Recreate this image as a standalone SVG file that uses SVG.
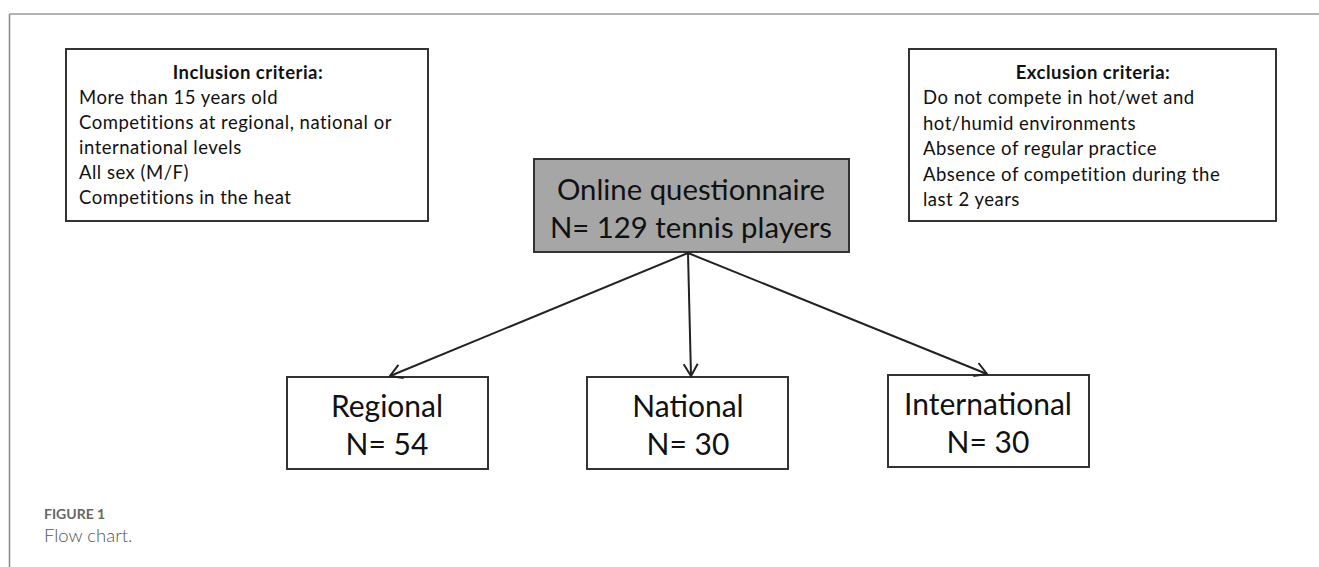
<svg xmlns="http://www.w3.org/2000/svg" width="1319" height="567" viewBox="0 0 1319 567">
<defs>
<marker id="arr" viewBox="0 0 20 20" refX="18" refY="10" markerWidth="20" markerHeight="20" markerUnits="userSpaceOnUse" orient="auto">
<path d="M6,3 L18,10 L6,17" fill="none" stroke="#222" stroke-width="2"/>
</marker>
<style>
.box{fill:#fff;stroke:#333;stroke-width:2}
.t{font-family:Lato,"Liberation Sans",sans-serif;fill:#111}
.s{font-size:18.5px;letter-spacing:0.5px}
.b{font-weight:bold}
.big{font-size:30px;text-anchor:middle}
.mid{font-size:29.3px;text-anchor:middle}
.conn{stroke:#222;stroke-width:2;fill:none}
</style>
</defs>
<rect width="1319" height="567" fill="#fff"/>
<line x1="9.5" y1="14" x2="1319" y2="14" stroke="#9a9a9a" stroke-width="1.5"/>
<line x1="9.5" y1="14" x2="9.5" y2="567" stroke="#888" stroke-width="1.5"/>

<g id="inclusion">
<rect class="box" x="66" y="49" width="362" height="172"/>
<text class="t s b" x="248" y="79" text-anchor="middle">Inclusion criteria:</text>
<text class="t s" x="79" y="104">More than 15 years old</text>
<text class="t s" x="79" y="129">Competitions at regional, national or</text>
<text class="t s" x="79" y="154">international levels</text>
<text class="t s" x="79" y="179">All sex (M/F)</text>
<text class="t s" x="79" y="204">Competitions in the heat</text>
</g>

<g id="exclusion">
<rect class="box" x="909" y="49" width="367" height="172"/>
<text class="t s b" x="1093" y="79" text-anchor="middle">Exclusion criteria:</text>
<text class="t s" x="923" y="104">Do not compete in hot/wet and</text>
<text class="t s" x="923" y="129.5">hot/humid environments</text>
<text class="t s" x="923" y="155">Absence of regular practice</text>
<text class="t s" x="923" y="180.5">Absence of competition during the</text>
<text class="t s" x="923" y="206">last 2 years</text>
</g>

<g id="questionnaire">
<rect x="534" y="159" width="315" height="93" fill="#a6a6a6" stroke="#333" stroke-width="2"/>
<text class="t mid" x="691" y="200">Online questionnaire</text>
<text class="t mid" x="691" y="238">N= 129 tennis players</text>
</g>

<g id="regional">
<rect class="box" x="287" y="377" width="201" height="92"/>
<text class="t big" x="387" y="417">Regional</text>
<text class="t big" x="387" y="455">N= 54</text>
</g>

<g id="national">
<rect class="box" x="587" y="377" width="201" height="92"/>
<text class="t big" x="688" y="417">National</text>
<text class="t big" x="688" y="455">N= 30</text>
</g>

<g id="international">
<rect class="box" x="888" y="375" width="201" height="92"/>
<text class="t big" x="988" y="415">International</text>
<text class="t big" x="988" y="453">N= 30</text>
</g>

<g id="connectors">
<line class="conn" x1="688" y1="253" x2="390" y2="376" marker-end="url(#arr)"/>
<line class="conn" x1="688" y1="253" x2="691" y2="376" marker-end="url(#arr)"/>
<line class="conn" x1="688" y1="253" x2="987" y2="374" marker-end="url(#arr)"/>
</g>

<g id="caption">
<text x="44" y="519" font-family="Lato,'Liberation Sans',sans-serif" font-size="14" font-weight="bold" fill="#666">FIGURE 1</text>
<text x="44" y="542" font-family="Lato,'Liberation Sans',sans-serif" font-size="18.5" font-weight="300" fill="#555">Flow chart.</text>
</g>
</svg>
